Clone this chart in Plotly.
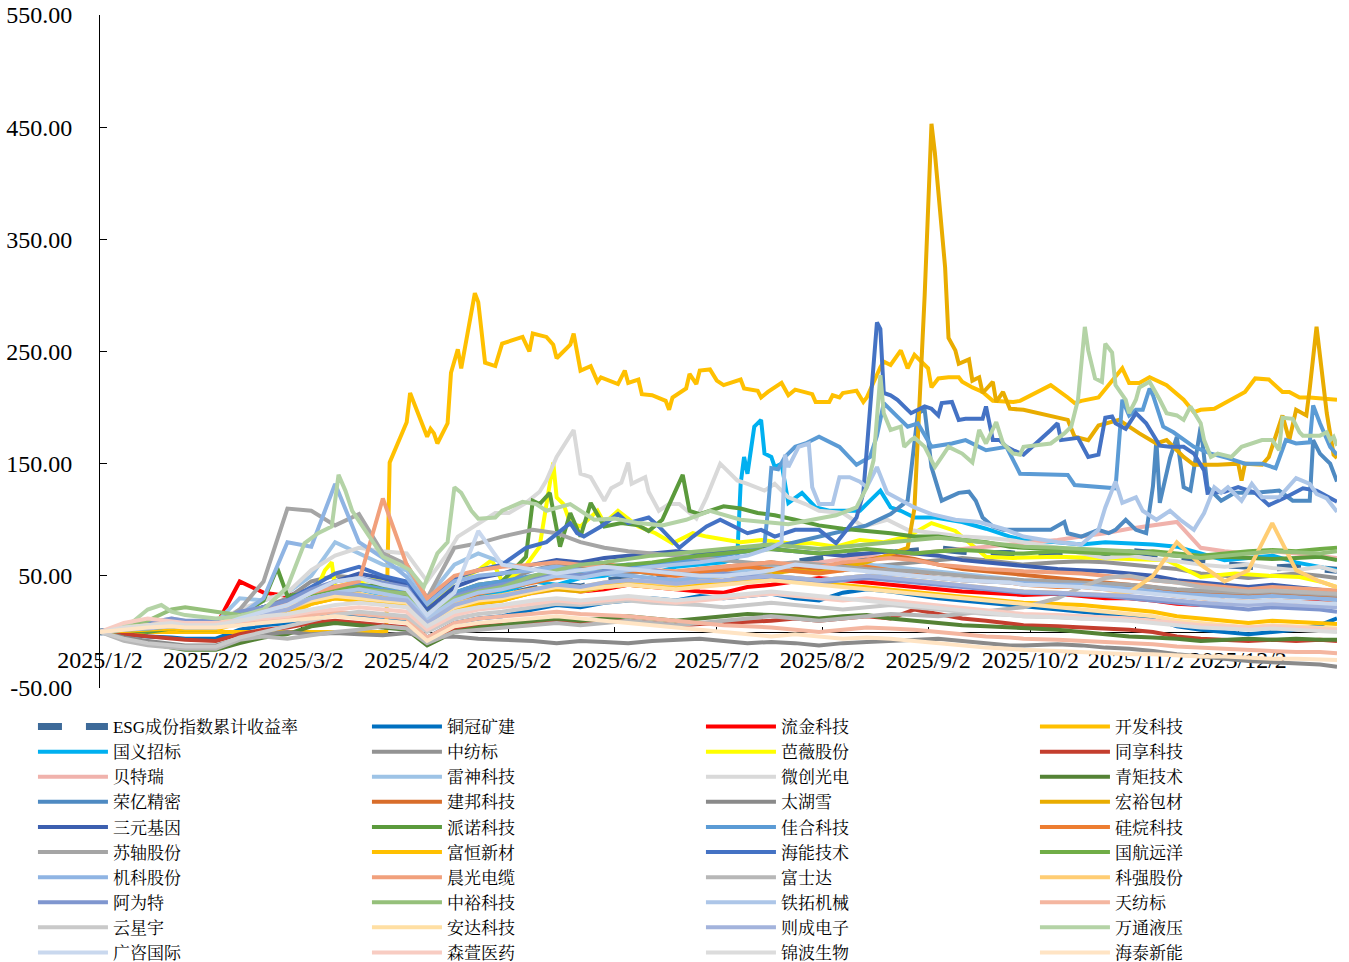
import pandas as pd
import plotly.graph_objects as go

# ---------------- data ----------------
# day-of-year (2025) of the weekly sample points used by most series
grid_days = [2, 9, 16, 23, 27, 36, 43, 50, 57, 64, 71, 78, 85,
             92, 98, 106, 113, 120, 129, 136, 143, 150, 157, 164, 171, 178,
             185, 192, 199, 206, 213, 220, 227, 234, 241, 248, 255, 262, 269,
             273, 283, 290, 297, 304, 311, 318, 325, 332, 339, 346, 353, 360, 365]

tick_dates = ["2025-01-02", "2025-02-02", "2025-03-02", "2025-04-02", "2025-05-02", "2025-06-02",
              "2025-07-02", "2025-08-02", "2025-09-02", "2025-10-02", "2025-11-02", "2025-12-02"]
tick_text = ["2025/1/2", "2025/2/2", "2025/3/2", "2025/4/2", "2025/5/2", "2025/6/2",
             "2025/7/2", "2025/8/2", "2025/9/2", "2025/10/2", "2025/11/2", "2025/12/2"]
y_ticks = [-50, 50, 150, 250, 350, 450, 550]
y_tick_text = ["-50.00", "50.00", "150.00", "250.00", "350.00", "450.00", "550.00"]

esg = [0, 2, 4, 5, 4, 4, 12, 18, 22, 30, 34, 36, 32,
       28, 12, 25, 30, 32, 38, 42, 40, 45, 48, 50, 52, 54,
       55, 58, 60, 62, 65, 68, 68, 70, 72, 74, 72, 70, 70,
       68, 70, 72, 70, 72, 70, 66, 62, 60, 58, 57, 58, 56, 55]
tongguan = [0, -2, -4, -5, -6, -6, 2, 6, 8, 12, 15, 14, 12,
            10, -5, 8, 12, 14, 20, 24, 22, 26, 28, 30, 28, 32,
            30, 32, 34, 30, 28, 35, 38, 36, 33, 30, 28, 26, 24,
            22, 20, 18, 16, 15, 12, 5, 2, 0, -2, 0, 2, 6, 12]
liujin = [0, 3, 5, 6, 5, 5, 45, 35, 32, 38, 40, 38, 35,
          30, 10, 28, 32, 30, 38, 40, 36, 38, 42, 40, 38, 36,
          35, 40, 42, 45, 48, 46, 44, 42, 40, 38, 36, 35, 34,
          33, 34, 32, 30, 30, 28, 25, 24, 25, 26, 27, 26, 28, 27]
zhongfangbiao = [0, 2, 3, 5, 4, 4, 15, 22, 30, 45, 50, 48, 42,
                 35, 18, 32, 38, 45, 55, 60, 58, 55, 52, 55, 52, 50,
                 52, 55, 58, 56, 54, 55, 58, 60, 62, 64, 66, 64, 62,
                 60, 62, 63, 62, 60, 58, 56, 52, 50, 48, 50, 52, 50, 48]
tongxiang = [0, -2, -4, -6, -7, -8, -2, 2, 4, 8, 10, 8, 6,
             4, -10, 2, 5, 6, 8, 10, 8, 9, 10, 8, 6, 7,
             8, 9, 10, 12, 10, 12, 14, 12, 20, 16, 12, 10, 8,
             6, 5, 4, 3, 2, 0, -4, -6, -7, -8, -7, -8, -7, -8]
beiterui = [0, 3, 5, 8, 6, 6, 12, 16, 20, 28, 32, 30, 28,
            25, 10, 22, 28, 30, 35, 38, 36, 40, 42, 45, 48, 50,
            52, 55, 58, 60, 62, 65, 68, 66, 70, 72, 74, 76, 78,
            80, 82, 85, 88, 92, 95, 98, 75, 72, 70, 72, 70, 68, 66]
leishen = [0, 5, 8, 10, 8, 8, 30, 28, 35, 50, 80, 70, 60,
           55, 30, 60, 70, 62, 55, 58, 54, 56, 58, 55, 52, 50,
           52, 55, 58, 56, 54, 58, 60, 58, 56, 54, 52, 50, 48,
           46, 45, 44, 42, 40, 38, 35, 34, 33, 32, 33, 32, 30, 28]
qingju = [0, -5, -10, -14, -16, -16, -10, -5, -2, 5, 8, 6, 4,
          2, -12, 0, 4, 6, 10, 12, 10, 12, 14, 12, 10, 12,
          14, 16, 15, 14, 12, 14, 15, 12, 10, 8, 6, 5, 4,
          3, 2, 0, -2, -4, -5, -6, -8, -7, -6, -7, -6, -7, -7]
jianbang = [0, 2, 4, 6, 5, 5, 14, 20, 24, 32, 36, 40, 38,
            35, 15, 30, 36, 40, 48, 52, 55, 60, 58, 55, 52, 56,
            58, 60, 62, 58, 56, 60, 64, 68, 65, 60, 56, 54, 52,
            50, 48, 46, 44, 42, 40, 36, 35, 34, 33, 35, 34, 32, 30]
taihuxue = [0, -5, -8, -10, -12, -12, -6, -2, 0, -2, -1, -2, -3,
            -1, -5, -4, -6, -7, -8, -10, -8, -9, -10, -8, -7, -6,
            -8, -10, -9, -10, -12, -10, -9, -8, -7, -6, -8, -10, -12,
            -12, -11, -12, -14, -15, -17, -20, -22, -24, -26, -27, -28, -29, -31]
sanyuan = [0, 3, 6, 8, 7, 7, 16, 22, 26, 35, 45, 52, 48,
           42, 20, 40, 48, 52, 60, 64, 62, 66, 68, 70, 72, 70,
           72, 75, 74, 72, 70, 68, 70, 72, 70, 68, 64, 62, 60,
           58, 56, 55, 54, 52, 50, 46, 44, 42, 40, 42, 40, 38, 36]
guiwan = [0, 2, 3, 4, 3, 3, 10, 16, 20, 30, 35, 38, 36,
          34, 12, 28, 34, 38, 44, 48, 50, 52, 55, 52, 50, 53,
          55, 58, 56, 54, 52, 55, 58, 55, 52, 48, 46, 45, 44,
          42, 40, 40, 38, 36, 35, 32, 30, 28, 27, 28, 27, 26, 25]
suzhou = [0, 2, 4, 6, 5, 5, 20, 45, 110, 108, 95, 105, 70,
          60, 30, 75, 79, 85, 91, 88, 80, 75, 72, 70, 68, 66,
          64, 62, 60, 62, 60, 58, 56, 55, 54, 52, 50, 48, 47,
          46, 45, 44, 43, 42, 40, 38, 37, 36, 35, 36, 35, 34, 33]
fuheng = [0, 1, 2, 3, 2, 2, 8, 12, 15, 25, 30, 28, 26,
          24, 5, 20, 26, 28, 35, 40, 38, 42, 44, 42, 40, 42,
          44, 46, 48, 46, 44, 42, 40, 38, 36, 34, 32, 30, 28,
          26, 25, 24, 22, 20, 18, 14, 12, 10, 8, 10, 9, 8, 7]
guohang = [0, 2, 3, 5, 4, 4, 12, 18, 22, 32, 38, 40, 36,
           34, 14, 30, 36, 40, 48, 52, 55, 58, 60, 62, 65, 68,
           70, 72, 74, 72, 70, 72, 74, 72, 70, 72, 73, 72, 70,
           70, 72, 71, 70, 70, 72, 70, 68, 70, 72, 73, 72, 74, 75]
jike = [0, 3, 5, 6, 5, 5, 15, 30, 80, 76, 132, 80, 66,
        49, 25, 45, 50, 52, 55, 58, 55, 52, 50, 48, 46, 48,
        50, 52, 50, 48, 46, 48, 50, 52, 50, 48, 46, 45, 44,
        43, 42, 42, 40, 38, 36, 34, 33, 32, 31, 32, 31, 30, 29]
chenguang = [0, 4, 6, 8, 6, 6, 14, 20, 25, 35, 40, 45, 119,
             60, 30, 50, 55, 58, 60, 62, 60, 58, 56, 55, 54, 56,
             58, 60, 62, 60, 58, 62, 64, 66, 64, 60, 58, 56, 55,
             54, 53, 52, 50, 48, 46, 44, 42, 40, 38, 40, 39, 38, 37]
fushida = [0, -8, -12, -14, -15, -15, -7, -4, -6, -3, 0, 2, 5,
           3, -10, 0, 2, 4, 6, 8, 6, 8, 10, 8, 6, 8,
           10, 12, 14, 12, 10, 12, 14, 16, 15, 14, 16, 18, 20,
           22, 30, 40, 48, 50, 46, 44, 40, 38, 36, 37, 36, 35, 34]
keqiang = [0, 3, 5, 6, 5, 5, 12, 16, 20, 28, 32, 34, 30,
           28, 10, 25, 30, 33, 38, 42, 40, 44, 46, 44, 42, 45,
           46, 48, 50, 48, 46, 48, 50, 48, 46, 44, 42, 40, 38,
           36, 35, 34, 33, 35, 50, 80, 60, 45, 55, 97, 55, 45, 40]
aweite = [0, 5, 8, 12, 10, 10, 18, 22, 28, 38, 45, 48, 44,
          40, 15, 32, 38, 42, 48, 52, 50, 54, 56, 55, 52, 50,
          52, 50, 48, 46, 44, 46, 48, 46, 44, 42, 40, 38, 36,
          35, 34, 33, 32, 30, 28, 26, 24, 22, 20, 22, 21, 20, 18]
zhongyu = [0, 5, 10, 20, 22, 18, 15, 18, 22, 30, 35, 38, 36,
           34, 15, 30, 36, 40, 50, 55, 60, 62, 65, 68, 70, 72,
           74, 76, 78, 76, 74, 76, 78, 80, 82, 84, 82, 80, 78,
           76, 75, 74, 73, 72, 70, 68, 66, 68, 70, 72, 71, 70, 72]
tianfangbiao = [0, 3, 6, 8, 6, 5, 8, 10, 12, 15, 18, 16, 14,
                12, -5, 8, 12, 14, 16, 18, 16, 15, 14, 12, 10, 8,
                6, 5, 4, 2, 0, 2, 4, 3, 2, 0, -2, -4, -5,
                -6, -7, -8, -9, -10, -11, -13, -14, -15, -16, -17, -18, -18, -19]
yunxingyu = [0, -6, -10, -12, -13, -13, -5, 0, 5, 10, 15, 18, 16,
             14, 0, 12, 16, 18, 22, 25, 24, 26, 28, 26, 25, 24,
             22, 24, 26, 24, 22, 20, 22, 24, 22, 20, 18, 16, 15,
             14, 13, 12, 12, 11, 10, 8, 6, 5, 4, 5, 4, 3, 2]
anda = [0, 4, 6, 8, 7, 7, 14, 18, 22, 28, 32, 30, 28,
        26, 8, 22, 28, 30, 36, 40, 38, 40, 42, 40, 38, 40,
        42, 44, 46, 44, 42, 40, 38, 36, 34, 32, 30, 28, 26,
        24, 22, 20, 18, 16, 14, 10, 8, 6, 4, 6, 5, 4, 3]
zecheng = [0, 2, 3, 5, 4, 4, 12, 16, 20, 30, 35, 33, 30,
           28, 8, 24, 30, 32, 38, 42, 40, 44, 46, 45, 43, 45,
           46, 48, 50, 48, 46, 48, 50, 48, 46, 44, 42, 40, 38,
           36, 35, 34, 33, 32, 30, 28, 26, 25, 24, 25, 24, 23, 22]
guangzi = [0, 3, 5, 6, 5, 5, 12, 18, 24, 35, 45, 48, 42,
           38, 15, 35, 90, 60, 55, 52, 55, 58, 56, 54, 52, 50,
           50, 52, 55, 60, 58, 56, 54, 52, 50, 48, 46, 45, 44,
           42, 41, 40, 38, 36, 34, 32, 30, 28, 27, 28, 27, 26, 25]
senxuan = [0, 8, 12, 10, 8, 8, 10, 12, 14, 18, 20, 22, 20,
           18, 2, 15, 20, 22, 25, 28, 26, 28, 30, 28, 26, 28,
           30, 32, 34, 32, 30, 28, 30, 28, 26, 24, 22, 20, 18,
           16, 15, 14, 13, 12, 10, 8, 6, 5, 4, 5, 4, 3, 2]
jinbo = [0, 4, 6, 8, 6, 6, 10, 14, 16, 20, 24, 26, 24,
         22, 5, 18, 22, 24, 28, 30, 28, 30, 32, 30, 28, 30,
         32, 34, 36, 34, 32, 30, 28, 26, 24, 22, 20, 18, 16,
         14, 13, 12, 11, 10, 8, 6, 4, 3, 2, 3, 2, 1, 0]
haitai = [0, 2, 4, 5, 4, 4, 6, 8, 10, 12, 14, 12, 10,
          8, -8, 5, 8, 10, 12, 14, 12, 10, 8, 6, 4, 2,
          0, -2, -4, -2, -4, -6, -5, -6, -8, -10, -12, -14, -15,
          -16, -17, -18, -19, -20, -20, -21, -22, -22, -23, -24, -24, -25, -25]

# (day-of-year, value) pairs for the series that need more detail
kaifa = [(2, 0), (86, 0), (87, 151), (92, 187), (93, 213), (98, 174), (99, 181), (100, 177), (101, 168),
         (104, 186), (105, 231), (107, 252), (108, 235), (112, 302), (113, 294), (115, 240), (118, 237),
         (120, 257), (126, 263), (128, 250), (129, 266), (133, 263), (135, 256), (136, 244), (140, 256),
         (141, 266), (143, 233), (146, 237), (148, 223), (149, 227), (154, 221), (156, 233), (157, 222),
         (160, 225), (161, 212), (164, 211), (168, 206), (169, 198), (170, 209), (174, 217), (175, 230),
         (177, 221), (178, 233), (181, 234), (183, 224), (185, 220), (190, 225), (191, 217), (195, 215),
         (196, 209), (198, 214), (202, 222), (204, 211), (206, 216), (211, 212), (212, 205), (216, 205),
         (217, 211), (219, 209), (220, 213), (222, 214), (224, 215), (226, 205), (227, 209), (231, 236),
         (232, 241), (234, 238), (237, 251), (239, 235), (241, 247), (245, 235), (246, 218), (248, 226),
         (251, 227), (254, 227), (255, 223), (258, 218), (261, 214), (264, 206), (270, 205), (272, 206),
         (281, 220), (286, 209), (288, 204), (290, 206), (295, 209), (302, 235), (304, 222), (307, 222),
         (310, 227), (315, 220), (320, 207), (323, 196), (325, 198), (329, 199), (334, 207), (338, 214),
         (341, 226), (345, 225), (349, 214), (351, 214), (354, 209), (357, 209), (365, 207)]
hongyu = [(2, 0), (9, 3), (16, 2), (23, 5), (27, 4), (36, 3), (43, 10), (50, 15), (57, 18), (64, 25),
          (71, 30), (78, 28), (85, 32), (92, 26), (98, 8), (106, 20), (113, 25), (120, 28), (129, 35),
          (136, 38), (143, 36), (150, 40), (157, 42), (164, 40), (171, 45), (178, 48), (185, 45),
          (192, 50), (199, 52), (206, 55), (213, 53), (220, 58), (227, 62), (234, 70), (239, 75),
          (241, 110), (244, 300), (246, 453), (247, 427), (250, 325), (251, 262), (253, 251), (254, 239),
          (257, 243), (258, 224), (260, 227), (261, 213), (264, 223), (265, 205), (267, 214), (269, 199),
          (273, 198), (281, 193), (286, 189), (288, 174), (292, 171), (295, 184), (301, 189), (307, 177),
          (312, 168), (315, 171), (320, 156), (323, 149), (330, 149), (336, 150), (337, 135), (338, 150),
          (343, 149), (345, 156), (349, 193), (351, 171), (353, 198), (356, 193), (357, 217), (359, 272),
          (362, 195), (364, 158), (365, 155)]
haineng = [(2, 0), (9, 2), (16, 5), (23, 8), (27, 7), (36, 6), (43, 15), (50, 22), (57, 28), (64, 40),
           (71, 52), (78, 58), (85, 50), (92, 45), (98, 25), (106, 48), (113, 55), (120, 60), (127, 75),
           (133, 80), (140, 97), (142, 88), (144, 85), (149, 94), (154, 105), (157, 97), (163, 102),
           (166, 94), (172, 75), (176, 85), (180, 94), (184, 100), (188, 94), (192, 88), (196, 91),
           (200, 85), (206, 91), (213, 91), (218, 79), (222, 95), (224, 102), (226, 124), (230, 276),
           (231, 270), (232, 213), (234, 211), (236, 207), (239, 198), (240, 195), (244, 201), (246, 199),
           (248, 193), (249, 204), (252, 205), (254, 189), (256, 190), (261, 190), (262, 201), (264, 171),
           (266, 171), (268, 165), (270, 162), (273, 158), (281, 180), (283, 186), (284, 171), (289, 173),
           (292, 156), (295, 158), (297, 191), (299, 192), (300, 186), (303, 181), (306, 195), (309, 186),
           (313, 166), (316, 165), (320, 165), (323, 159), (326, 144), (327, 124), (332, 125), (336, 129),
           (341, 124), (345, 113), (350, 120), (355, 128), (359, 126), (365, 116)]
wantong = [(2, 0), (9, 5), (12, 10), (16, 20), (20, 24), (23, 18), (27, 15), (36, 12), (43, 14), (50, 20),
           (57, 40), (62, 79), (66, 88), (70, 94), (72, 140), (74, 126), (76, 108), (79, 94), (85, 67),
           (90, 60), (93, 55), (97, 40), (101, 70), (104, 80), (106, 129), (108, 124), (111, 108),
           (113, 101), (118, 102), (120, 108), (126, 116), (130, 114), (133, 108), (140, 114), (147, 100),
           (153, 101), (160, 97), (167, 95), (174, 100), (181, 108), (190, 100), (197, 98), (204, 96),
           (211, 100), (218, 104), (224, 111), (227, 129), (229, 153), (231, 229), (232, 195), (234, 180),
           (237, 183), (238, 165), (240, 171), (241, 173), (244, 165), (247, 147), (251, 165), (255, 159),
           (258, 151), (260, 180), (262, 168), (265, 187), (267, 168), (270, 159), (272, 158), (273, 165),
           (281, 168), (285, 177), (287, 183), (289, 207), (291, 272), (292, 251), (294, 226), (296, 223),
           (297, 257), (299, 249), (300, 220), (303, 207), (304, 195), (306, 207), (307, 218), (310, 223),
           (313, 207), (315, 195), (318, 193), (320, 189), (322, 201), (325, 186), (326, 171), (328, 156),
           (330, 159), (334, 156), (337, 165), (340, 168), (343, 171), (346, 171), (348, 162), (349, 191),
           (352, 190), (354, 178), (355, 175), (360, 175), (362, 178), (363, 171), (364, 174), (365, 166)]
guoyi = [(2, 0), (9, 2), (16, 4), (23, 5), (27, 4), (36, 3), (43, 12), (50, 18), (57, 22), (64, 30),
         (71, 35), (78, 38), (85, 33), (92, 28), (98, 10), (106, 25), (113, 32), (120, 35), (129, 45),
         (136, 42), (143, 48), (150, 50), (157, 55), (164, 52), (171, 58), (178, 60), (185, 62), (189, 66),
         (190, 132), (191, 156), (192, 141), (194, 183), (196, 189), (197, 159), (199, 156), (200, 147),
         (202, 150), (204, 115), (208, 124), (212, 111), (216, 108), (220, 108), (225, 108), (228, 117),
         (231, 126), (234, 111), (237, 108), (241, 102), (247, 102), (255, 98), (262, 92), (269, 85),
         (273, 82), (283, 80), (290, 78), (297, 80), (304, 79), (311, 78), (318, 76), (325, 70), (332, 64),
         (339, 66), (346, 68), (353, 62), (360, 58), (365, 55)]
weichuang = [(2, 0), (9, 5), (16, 8), (23, 12), (27, 10), (36, 9), (43, 20), (50, 28), (57, 35), (64, 55),
             (71, 68), (78, 75), (85, 72), (92, 70), (98, 45), (104, 70), (107, 85), (112, 95), (118, 106),
             (122, 106), (127, 115), (131, 125), (133, 135), (136, 156), (141, 180), (143, 141), (146, 138),
             (150, 117), (152, 128), (155, 133), (157, 151), (158, 132), (162, 138), (163, 125), (166, 108),
             (169, 114), (172, 114), (177, 101), (180, 120), (184, 150), (186, 144), (189, 135), (192, 132),
             (197, 126), (200, 132), (204, 120), (209, 114), (213, 108), (220, 106), (226, 94), (233, 100),
             (239, 91), (247, 88), (255, 85), (262, 84), (269, 82), (283, 75), (290, 70), (297, 66),
             (304, 68), (311, 65), (318, 63), (325, 60), (332, 58), (339, 60), (346, 57), (353, 55),
             (360, 58), (365, 54)]
bawei = [(2, 0), (9, 3), (16, 2), (23, 4), (27, 3), (36, 3), (43, 8), (50, 12), (57, 15), (64, 28),
         (68, 55), (70, 62), (71, 40), (78, 45), (85, 48), (92, 40), (98, 20), (106, 45), (113, 55),
         (117, 64), (120, 45), (126, 55), (131, 76), (135, 151), (136, 120), (138, 114), (140, 97),
         (143, 94), (148, 108), (150, 97), (154, 108), (160, 94), (165, 88), (170, 79), (176, 88),
         (180, 85), (186, 82), (190, 80), (196, 82), (204, 79), (211, 79), (218, 76), (225, 82), (232, 80),
         (239, 85), (246, 97), (253, 90), (262, 67), (270, 66), (283, 67), (295, 66), (304, 65), (315, 64),
         (325, 49), (335, 52), (345, 50), (354, 49), (360, 45), (365, 40)]
jiahe = [(2, 0), (9, 4), (16, 6), (23, 8), (27, 7), (36, 6), (43, 14), (50, 20), (57, 25), (64, 35),
         (71, 40), (78, 42), (85, 38), (92, 35), (98, 15), (106, 35), (113, 42), (120, 45), (129, 50),
         (136, 55), (143, 52), (150, 58), (157, 60), (164, 58), (171, 62), (178, 65), (185, 68), (192, 72),
         (197, 78), (198, 108), (199, 146), (201, 145), (203, 156), (206, 165), (209, 168), (213, 174),
         (219, 165), (224, 149), (228, 156), (230, 175), (232, 204), (236, 192), (239, 183), (242, 186),
         (246, 165), (252, 168), (256, 171), (262, 162), (268, 165), (272, 141), (281, 140), (286, 140),
         (288, 131), (296, 129), (300, 128), (302, 207), (304, 193), (306, 198), (308, 198), (310, 217),
         (311, 211), (314, 183), (317, 178), (323, 165), (328, 159), (333, 155), (338, 150), (343, 150),
         (347, 146), (350, 171), (353, 168), (357, 169), (358, 202), (360, 186), (363, 165), (365, 158)]
rongyi = [(2, 0), (9, 3), (16, 5), (23, 6), (27, 5), (36, 5), (43, 12), (50, 18), (57, 24), (64, 32),
          (71, 38), (78, 42), (85, 36), (92, 32), (98, 12), (106, 30), (113, 38), (120, 42), (129, 48),
          (136, 52), (143, 50), (150, 55), (157, 58), (164, 60), (171, 62), (178, 66), (185, 70), (192, 72),
          (199, 75), (206, 80), (213, 85), (220, 90), (227, 95), (234, 105), (239, 117), (242, 195),
          (244, 198), (246, 147), (249, 117), (254, 124), (257, 125), (259, 117), (261, 102), (264, 94),
          (267, 91), (273, 91), (281, 91), (285, 98), (286, 88), (290, 85), (295, 91), (298, 88), (300, 91),
          (303, 100), (306, 91), (309, 88), (311, 130), (312, 171), (313, 115), (316, 155), (318, 174),
          (320, 129), (322, 126), (325, 183), (327, 129), (331, 117), (335, 124), (341, 124), (348, 126),
          (352, 117), (357, 117), (358, 171), (360, 159), (362, 153), (363, 150), (365, 134)]
tietuo = [(2, 0), (9, 3), (16, 5), (23, 8), (27, 7), (36, 6), (43, 12), (50, 18), (57, 22), (64, 30),
          (71, 35), (78, 38), (85, 34), (92, 30), (98, 12), (106, 28), (113, 35), (120, 38), (129, 45),
          (136, 50), (143, 48), (150, 52), (157, 55), (164, 58), (171, 60), (178, 62), (185, 65), (192, 68),
          (199, 75), (202, 80), (203, 158), (204, 147), (207, 165), (210, 168), (211, 129), (213, 114),
          (217, 114), (219, 138), (222, 138), (225, 134), (227, 129), (230, 147), (233, 124), (237, 117),
          (241, 111), (246, 105), (253, 100), (260, 98), (267, 92), (273, 85), (283, 80), (290, 78),
          (295, 91), (297, 111), (300, 134), (302, 115), (306, 120), (308, 108), (312, 100), (316, 108),
          (319, 100), (323, 91), (326, 106), (329, 129), (331, 124), (333, 129), (337, 117), (340, 132),
          (343, 120), (348, 120), (353, 137), (357, 132), (359, 123), (362, 119), (365, 107)]
painuo = [(2, 0), (9, 2), (16, 0), (23, 3), (27, 2), (36, 2), (43, 15), (50, 28), (54, 57), (57, 32),
          (64, 35), (71, 38), (78, 42), (85, 40), (92, 38), (98, 15), (106, 35), (113, 42), (120, 45),
          (127, 67), (129, 117), (131, 114), (134, 124), (135, 108), (137, 76), (140, 106), (143, 85),
          (146, 115), (150, 94), (155, 97), (160, 95), (163, 90), (167, 100), (170, 120), (173, 140),
          (175, 108), (178, 105), (185, 112), (190, 110), (195, 106), (200, 104), (206, 100), (213, 95),
          (220, 92), (227, 90), (234, 88), (241, 85), (248, 85), (255, 82), (262, 80), (269, 76), (273, 75),
          (283, 74), (290, 72), (297, 70), (304, 72), (311, 70), (318, 68), (325, 66), (332, 67), (339, 66),
          (346, 65), (353, 66), (360, 67), (365, 64)]

# legend order (row-major, as in the reference) with colours
series = [
    ("ESG成份指数累计收益率", None, esg, "#3D6A99"),
    ("铜冠矿建", None, tongguan, "#0070C0"),
    ("流金科技", None, liujin, "#FF0000"),
    ("开发科技", kaifa, None, "#FFC000"),
    ("国义招标", guoyi, None, "#00B0F0"),
    ("中纺标", None, zhongfangbiao, "#939393"),
    ("芭薇股份", bawei, None, "#FFFF00"),
    ("同享科技", None, tongxiang, "#C43E2E"),
    ("贝特瑞", None, beiterui, "#F0B2AC"),
    ("雷神科技", None, leishen, "#9DC3E6"),
    ("微创光电", weichuang, None, "#D9D9D9"),
    ("青矩技术", None, qingju, "#548235"),
    ("荣亿精密", rongyi, None, "#4E8AC2"),
    ("建邦科技", None, jianbang, "#D86D2A"),
    ("太湖雪", None, taihuxue, "#8A8A8A"),
    ("宏裕包材", hongyu, None, "#E9AC00"),
    ("三元基因", None, sanyuan, "#3C5FAF"),
    ("派诺科技", painuo, None, "#5B9A3C"),
    ("佳合科技", jiahe, None, "#5B9BD5"),
    ("硅烷科技", None, guiwan, "#ED7D31"),
    ("苏轴股份", None, suzhou, "#A5A5A5"),
    ("富恒新材", None, fuheng, "#FFC000"),
    ("海能技术", haineng, None, "#4472C4"),
    ("国航远洋", None, guohang, "#70AD47"),
    ("机科股份", None, jike, "#8FB4E3"),
    ("晨光电缆", None, chenguang, "#F1A07C"),
    ("富士达", None, fushida, "#B7B7B7"),
    ("科强股份", None, keqiang, "#FFCD73"),
    ("阿为特", None, aweite, "#7F96CF"),
    ("中裕科技", None, zhongyu, "#95C07A"),
    ("铁拓机械", tietuo, None, "#ADC6E8"),
    ("天纺标", None, tianfangbiao, "#F4B6A0"),
    ("云星宇", None, yunxingyu, "#C9C9C9"),
    ("安达科技", None, anda, "#FFDFA3"),
    ("则成电子", None, zecheng, "#A3B3DC"),
    ("万通液压", wantong, None, "#B4D3A6"),
    ("广咨国际", None, guangzi, "#C9D8EE"),
    ("森萱医药", None, senxuan, "#F8CCC2"),
    ("锦波生物", None, jinbo, "#DCDCDC"),
    ("海泰新能", None, haitai, "#FFE4C4"),
]

BASE = pd.Timestamp("2025-01-01")


def to_dates(days):
    return [BASE + pd.Timedelta(days=int(d) - 1) for d in days]


fig = go.Figure()
for name, pairs, vals, color in series:
    if pairs is not None:
        days = [p[0] for p in pairs]
        ys = [p[1] for p in pairs]
    else:
        days = grid_days
        ys = vals
    assert len(days) == len(ys), name
    is_esg = name.startswith("ESG")
    fig.add_trace(go.Scatter(
        x=to_dates(days), y=ys, name=name, mode="lines",
        line=dict(color=color, width=7 if is_esg else 4,
                  dash="24px,24px" if is_esg else "solid"),
        hoverinfo="skip",
    ))

serif = "Liberation Serif, Times New Roman, serif"
fig.update_layout(
    width=1349, height=962,
    margin=dict(l=100, r=12, t=15, b=274, autoexpand=False),
    plot_bgcolor="white", paper_bgcolor="white",
    showlegend=True,
    legend=dict(
        orientation="h", x=-0.0542, y=-0.0312, xanchor="left", yanchor="top",
        entrywidth=249, entrywidthmode="pixels", itemwidth=70,
        traceorder="normal", bgcolor="rgba(0,0,0,0)",
        font=dict(family="Liberation Serif, Noto Serif CJK SC, Noto Sans CJK SC", size=17, color="black"),
    ),
    xaxis=dict(
        type="date", range=["2025-01-02", "2025-12-31"],
        tickvals=tick_dates, ticktext=tick_text,
        anchor="free", position=50 / 600,
        showline=True, linecolor="black", linewidth=1,
        ticks="inside", ticklen=5, tickcolor="black",
        showgrid=False, zeroline=False, layer="below traces",
        tickfont=dict(family=serif, size=24, color="black"),
        ticklabelstandoff=6,
    ),
    yaxis=dict(
        range=[-50, 550], tickvals=y_ticks, ticktext=y_tick_text,
        showline=True, linecolor="black", linewidth=1,
        ticks="inside", ticklen=7, tickcolor="black",
        showgrid=False, zeroline=False,
        tickfont=dict(family=serif, size=24, color="black"),
        ticklabelstandoff=22,
    ),
)

fig.write_html("out.html", config={"displayModeBar": False},
               post_script="document.body.style.margin='0';")
